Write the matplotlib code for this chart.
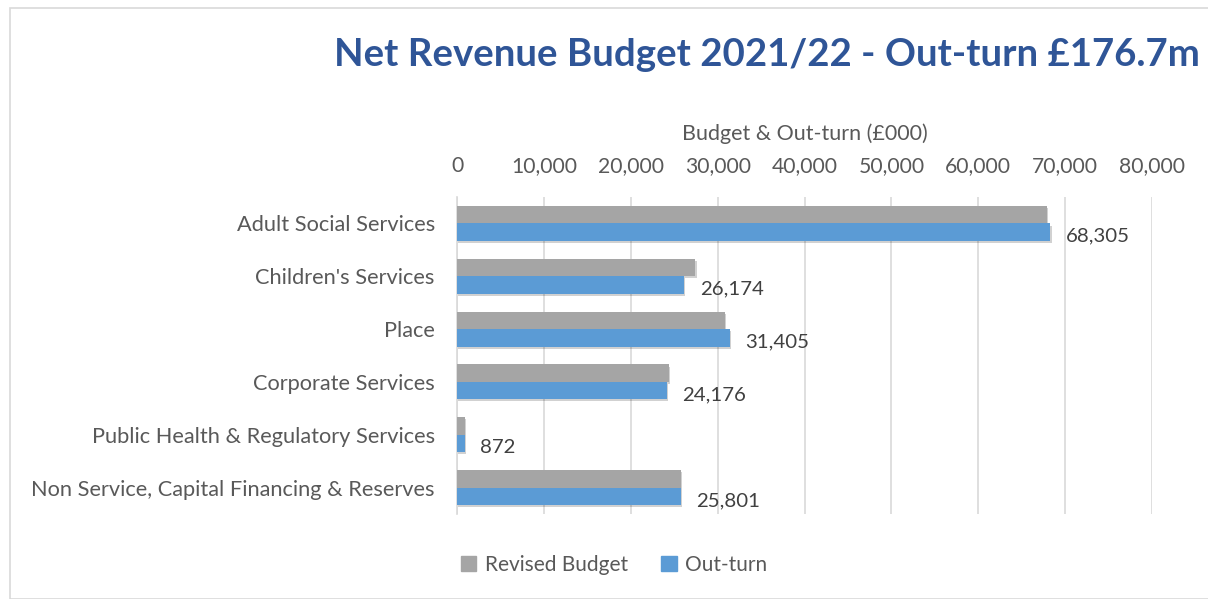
import matplotlib.pyplot as plt
import matplotlib.patheffects as pe
from matplotlib.patches import Rectangle, Patch
from matplotlib.ticker import FuncFormatter
import numpy as np

plt.rcParams['font.family'] = ['Lato', 'DejaVu Sans']

services = ['Adult Social Services', "Children's Services", 'Place',
            'Corporate Services', 'Public Health & Regulatory Services',
            'Non Service, Capital Financing & Reserves']
revised_budget = [67900, 27450, 30850, 24400, 890, 25780]
out_turn = [68305, 26174, 31405, 24176, 872, 25801]

title = 'Net Revenue Budget 2021/22 - Out-turn £176.7m'
axis_label = 'Budget & Out-turn (£000)'

W, H = 1208, 599
fig = plt.figure(figsize=(W / 100, H / 100), dpi=100)

# chart frame (only top and left edges fall inside the image)
fig.patches.append(Rectangle((10 / W, 0), 2, (H - 8) / H, transform=fig.transFigure,
                             fill=False, edgecolor='#D9D9D9', linewidth=1.2))

ax = fig.add_axes([457 / W, 1 - 514 / H, (1152 - 457) / W, (514 - 197) / H])

y = np.arange(len(services))
h = 0.33
shadow = [pe.SimplePatchShadow(offset=(0.8, -1.5), shadow_rgbFace='#000000', alpha=0.18),
          pe.Normal()]
ax.barh(y - h / 2, revised_budget, height=h, color='#A5A5A5',
        path_effects=shadow, zorder=3)
ax.barh(y + h / 2, out_turn, height=h, color='#5B9BD5',
        path_effects=shadow, zorder=3)

for val, yy in zip(out_turn, y):
    ax.annotate(f'{val:,}', (val, yy + h / 2), xytext=(11, -3), textcoords='offset points',
                va='center', ha='left', fontsize=14.7, color='#404040')

ax.set_xlim(0, 80000)
ax.set_ylim(len(services) - 0.5, -0.5)
ax.set_xticks(np.arange(0, 80001, 10000))
ax.xaxis.set_major_formatter(FuncFormatter(lambda v, p: f'{int(v):,}'))
ax.xaxis.tick_top()
ax.xaxis.set_label_position('top')
ax.set_xlabel(axis_label, fontsize=15.5, color='#595959', labelpad=12)
ax.tick_params(axis='x', length=0, pad=15, labelsize=15.2, labelcolor='#595959')
ax.set_yticks(y)
ax.set_yticklabels(services)
ax.tick_params(axis='y', length=0, pad=16, labelsize=15.7, labelcolor='#595959')
ax.grid(axis='x', color='#D9D9D9', linewidth=1.2, zorder=0)
for s in ['top', 'right', 'bottom']:
    ax.spines[s].set_visible(False)
ax.spines['left'].set_color('#D9D9D9')
ax.spines['left'].set_linewidth(1.2)

fig.text(767 / W, 1 - 55 / H, title, ha='center', va='center', fontsize=27.6,
         fontweight='bold', color='#2F5597')

handles = [Patch(color='#A5A5A5', label='Revised Budget'),
           Patch(color='#5B9BD5', label='Out-turn')]
leg = fig.legend(handles=handles, loc='center', bbox_to_anchor=(614 / W, 1 - 565 / H),
                 ncol=2, frameon=False, fontsize=15, handlelength=0.75, handleheight=0.75,
                 handletextpad=0.4, columnspacing=1.6)
for t in leg.get_texts():
    t.set_color('#595959')

fig.savefig('out.png', dpi=100)
